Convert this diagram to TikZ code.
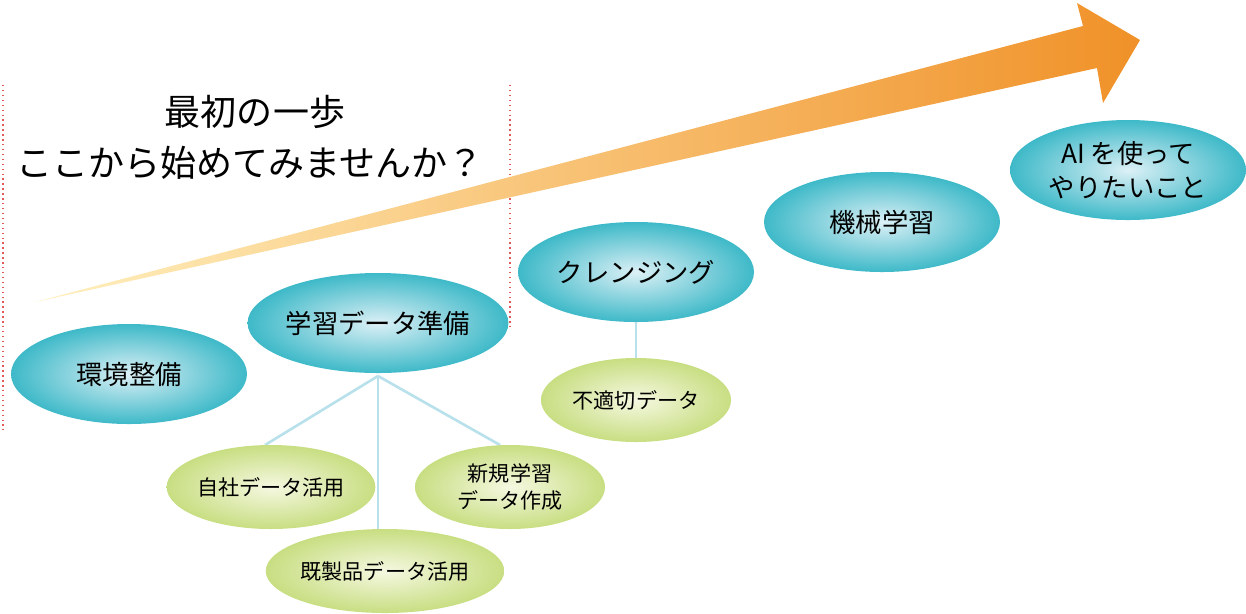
\documentclass[tikz,border=0pt]{standalone}
\usepackage{fontspec}
\setmainfont{Noto Sans CJK JP}
\usetikzlibrary{shapes.geometric}
\definecolor{tealE}{RGB}{62,185,200}
\definecolor{tealI}{RGB}{220,240,246}
\definecolor{grnE}{RGB}{200,222,130}
\definecolor{grnI}{RGB}{245,248,225}
\definecolor{arrA}{RGB}{255,240,190}
\definecolor{arrB}{RGB}{240,145,40}
\definecolor{lnk}{RGB}{185,225,235}
\definecolor{dotr}{RGB}{225,90,90}
\setlength{\unitlength}{0.02cm}
\tikzset{
 bnode/.style={ellipse,inner sep=0pt,minimum width=236\unitlength,minimum height=100\unitlength,inner color=tealI,outer color=tealE,font=\fontsize{15}{19}\selectfont,align=center},
 gnode/.style={ellipse,inner sep=0pt,minimum width=190\unitlength,minimum height=84\unitlength,inner color=grnI,outer color=grnE,font=\fontsize{12}{15}\selectfont,align=center},
 link/.style={lnk,line width=1.5pt},
 guide/.style={dotr,line width=0.8pt,dotted}
}
\begin{document}
\begin{tikzpicture}[x=0.02cm,y=-0.02cm]
\useasboundingbox (0,0) rectangle (1246,613);
\draw[guide] (3,85) -- (3,430);
\draw[guide] (510,85) -- (510,330);
\shade[left color=arrA,right color=arrB] (35,302) -- (1083,26) -- (1077,3) -- (1140,40) -- (1103,103) -- (1097,68) -- cycle;
\node[font=\fontsize{20.5}{24}\selectfont] (t1) at (255,112) {最初の一歩};
\node[font=\fontsize{20.5}{24}\selectfont] (t2) at (250,163) {ここから始めてみませんか？};
\coordinate (hub) at (378,376);
\coordinate (e1) at (265,445);
\coordinate (e2) at (378,532);
\coordinate (e3) at (500,445);
\draw[link] (hub) -- (e1);
\draw[link] (hub) -- (e2);
\draw[link] (hub) -- (e3);
\node[bnode] (b1) at (129,374) {環境整備};
\node[bnode] (b2) at (378,323) {学習データ準備};
\node[bnode] (b3) at (636,272) {クレンジング};
\node[bnode] (b4) at (882,222) {機械学習};
\node[bnode] (b5) at (1128,170) {AI を使って\\やりたいこと};
\node[gnode] (g1) at (271,487) {自社データ活用};
\node[gnode] (g2) at (385,571) {既製品データ活用};
\node[gnode] (g3) at (510,487) {新規学習\\データ作成};
\node[gnode] (g4) at (636,400) {不適切データ};
\draw[link] (b3.south) -- (g4.north);
\end{tikzpicture}
\end{document}
